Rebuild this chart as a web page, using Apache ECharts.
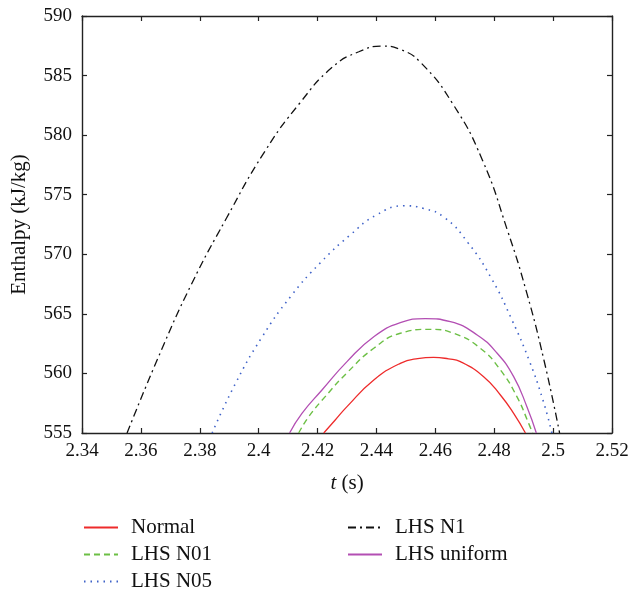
<!DOCTYPE html>
<html>
<head>
<meta charset="utf-8">
<script src="https://cdn.jsdelivr.net/npm/echarts@6/dist/echarts.min.js"></script>
<style>
  html, body { margin: 0; padding: 0; background: #fff; }
  #chart { width: 630px; height: 594px; }
</style>
</head>
<body>
<div id="chart"></div>
<script>
// Enthalpy vs. time for each sampling scheme: [t (s), h (kJ/kg)]
const normal = [
  [2.4221, 555.0], [2.4260, 556.09], [2.4300, 557.21], [2.4391, 559.45],
  [2.4481, 560.85], [2.4540, 561.25], [2.4594, 561.35], [2.4645, 561.22],
  [2.4685, 560.99], [2.4764, 559.73], [2.4821, 558.19], [2.4866, 556.65],
  [2.4906, 555.0]
];
const lhsN01 = [
  [2.4136, 555.0], [2.4170, 556.37], [2.4226, 558.05], [2.4300, 560.05],
  [2.4391, 562.11], [2.4481, 563.37], [2.4583, 563.70], [2.4662, 563.37],
  [2.4753, 562.11], [2.4821, 560.29], [2.4877, 558.05], [2.4917, 555.81],
  [2.4930, 555.0]
];
const lhsN05 = [
  [2.3842, 555.0], [2.3920, 559.10], [2.4010, 563.00], [2.4110, 566.50],
  [2.4210, 569.30], [2.4310, 571.60], [2.4400, 573.30], [2.4495, 574.07],
  [2.4560, 573.85], [2.4630, 573.10], [2.4710, 571.00], [2.4790, 568.00],
  [2.4860, 564.50], [2.4920, 561.00], [2.4965, 557.80], [2.4996, 555.0]
];
const lhsN1 = [
  [2.3553, 555.0], [2.3660, 561.40], [2.3770, 567.40], [2.3890, 573.00],
  [2.4020, 578.60], [2.4140, 582.70], [2.4250, 585.70], [2.4340, 587.00],
  [2.4420, 587.47], [2.4480, 587.20], [2.4550, 586.10], [2.4660, 582.60],
  [2.4760, 577.90], [2.4845, 572.00], [2.4910, 566.80], [2.4970, 561.00],
  [2.5022, 555.0]
];
const lhsUniform = [
  [2.4105, 555.0], [2.4147, 556.65], [2.4215, 558.61], [2.4300, 560.99],
  [2.4391, 563.08], [2.4481, 564.26], [2.4566, 564.60], [2.4651, 564.34],
  [2.4742, 563.23], [2.4810, 561.69], [2.4866, 559.73], [2.4911, 557.21],
  [2.4943, 555.0]
];

const seriesNames = ['Normal', 'LHS N01', 'LHS N05', 'LHS N1', 'LHS uniform'];
const xRange = { min: 2.34, max: 2.52, step: 0.02 };
const yRange = { min: 555, max: 590, step: 5 };

const FONT = '"Liberation Serif", "DejaVu Serif", serif';
const AXIS_COLOR = '#222';
const TEXT_COLOR = '#111';

function lineSeries(name, data, color, type, width) {
  return {
    name: name,
    type: 'line',
    data: data,
    smooth: 0.5,
    showSymbol: false,
    symbol: 'none',
    clip: true,
    lineStyle: { color: color, width: width, type: type },
    itemStyle: { color: color },
    emphasis: { disabled: true }
  };
}

const axisBase = {
  type: 'value',
  axisLine: { show: true, lineStyle: { color: AXIS_COLOR, width: 1.4 } },
  axisTick: { show: true, inside: true, length: 5, lineStyle: { color: AXIS_COLOR, width: 1.2 } },
  splitLine: { show: false }
};

const legendBase = {
  orient: 'vertical',
  top: 517,
  padding: 0,
  itemWidth: 34, itemHeight: 12, itemGap: 6,
  itemStyle: { opacity: 0 },
  textStyle: { color: TEXT_COLOR, fontFamily: FONT, fontSize: 21, padding: [0, 0, 0, 8] },
  selectedMode: false
};

const chart = echarts.init(document.getElementById('chart'), null, { renderer: 'canvas' });

chart.setOption({
  animation: false,
  backgroundColor: '#fff',
  grid: { left: 82, right: 18, top: 16, bottom: 161, outerBoundsMode: 'none' },
  xAxis: [
    Object.assign({}, axisBase, {
      position: 'bottom',
      min: xRange.min, max: xRange.max, interval: xRange.step,
      axisLabel: {
        color: TEXT_COLOR, fontFamily: FONT, fontSize: 19, margin: 9,
        formatter: v => String(+v.toFixed(2))
      },
      name: '{i|t} (s)',
      nameLocation: 'middle',
      nameGap: 40,
      nameTextStyle: {
        color: TEXT_COLOR, fontFamily: FONT, fontSize: 21,
        rich: { i: { fontStyle: 'italic', fontFamily: FONT, fontSize: 21, color: TEXT_COLOR } }
      }
    }),
    Object.assign({}, axisBase, {
      position: 'top',
      min: xRange.min, max: xRange.max, interval: xRange.step,
      axisLabel: { show: false }
    })
  ],
  yAxis: [
    Object.assign({}, axisBase, {
      position: 'left',
      min: yRange.min, max: yRange.max, interval: yRange.step,
      axisLabel: { color: TEXT_COLOR, fontFamily: FONT, fontSize: 19, margin: 10 },
      name: 'Enthalpy (kJ/kg)',
      nameLocation: 'middle',
      nameGap: 52,
      nameTextStyle: { color: TEXT_COLOR, fontFamily: FONT, fontSize: 21 }
    }),
    Object.assign({}, axisBase, {
      position: 'right',
      min: yRange.min, max: yRange.max, interval: yRange.step,
      axisLabel: { show: false }
    })
  ],
  legend: [
    Object.assign({}, legendBase, { data: seriesNames.slice(0, 3), left: 83 }),
    Object.assign({}, legendBase, { data: seriesNames.slice(3), left: 347 })
  ],
  series: [
    lineSeries(seriesNames[0], normal, '#ee2b2b', 'solid', 1.3),
    lineSeries(seriesNames[1], lhsN01, '#6cbf45', [6, 4], 1.4),
    lineSeries(seriesNames[2], lhsN05, '#3f62c8', [1.5, 5], 1.6),
    lineSeries(seriesNames[3], lhsN1, '#111111', [8, 4, 2, 4], 1.3),
    lineSeries(seriesNames[4], lhsUniform, '#b34fb3', 'solid', 1.3)
  ]
});
</script>
</body>
</html>
